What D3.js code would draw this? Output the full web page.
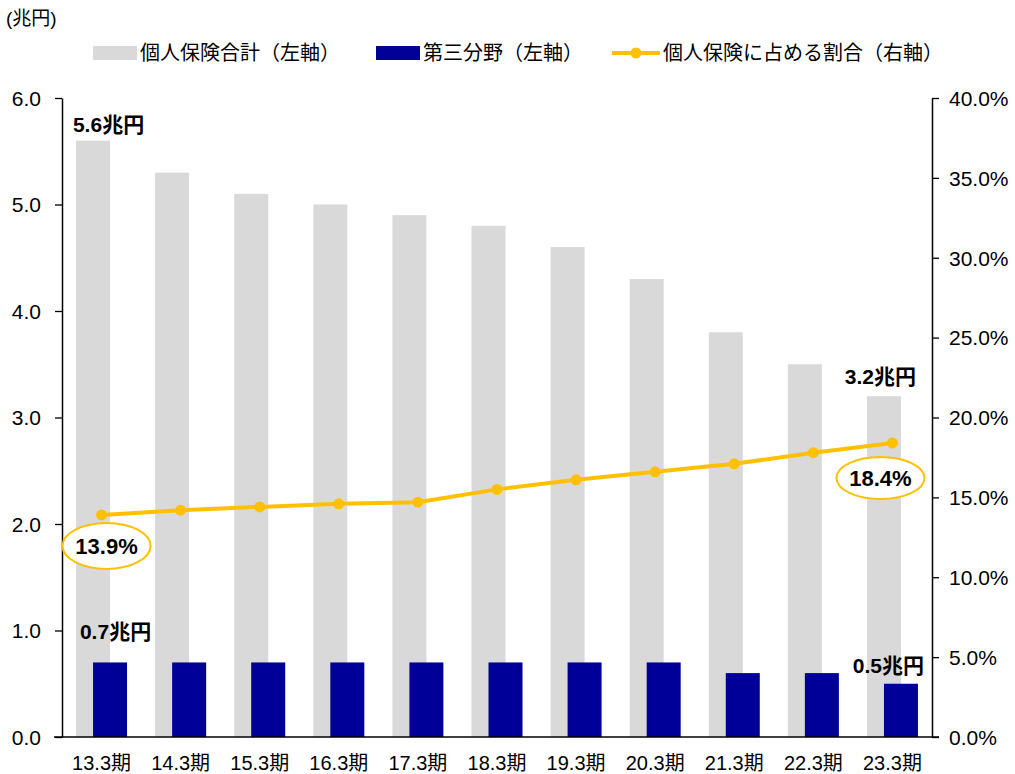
<!DOCTYPE html>
<html><head><meta charset="utf-8">
<script src="https://cdn.jsdelivr.net/npm/d3@7"></script>
<style>
body{margin:0;background:#fff;}
text{font-family:"Liberation Sans","Noto Sans CJK JP",Arial,sans-serif;}
</style></head>
<body><svg id="c" width="1015" height="774"></svg>
<script>
const categories = ["13.3期","14.3期","15.3期","16.3期","17.3期","18.3期","19.3期","20.3期","21.3期","22.3期","23.3期"];
const totalIndividual = [5.6,5.3,5.1,5.0,4.9,4.8,4.6,4.3,3.8,3.5,3.2];
const thirdSector = [0.7,0.7,0.7,0.7,0.7,0.7,0.7,0.7,0.6,0.6,0.5];
const sharePct = [13.9,14.2,14.4,14.6,14.7,15.5,16.1,16.6,17.1,17.8,18.4];
const leftTicks = [0,1,2,3,4,5,6];
const rightTicks = [0,5,10,15,20,25,30,35,40];
const seriesNames = ["個人保険合計（左軸）","第三分野（左軸）","個人保険に占める割合（右軸）"];

const FF = '"Liberation Sans","Noto Sans CJK JP",Arial,sans-serif';
const svg = d3.select("#c");
const L = 62, R = 932, T = 98, B = 737;
const x = d3.scaleBand().domain(categories).range([L, R]);
const yL = d3.scaleLinear().domain([0, 6]).range([B, T]);
const yR = d3.scaleLinear().domain([0, 40]).range([B, T]);
const barW = 34, off = 17;
const cx = c => x(c) + x.bandwidth()/2;

svg.selectAll("rect.g").data(totalIndividual).enter().append("rect")
  .attr("x",(d,i)=>cx(categories[i]) - off/2 - barW/2)
  .attr("y",d=>yL(d)).attr("width",barW).attr("height",d=>B-yL(d))
  .attr("fill","#d9d9d9");
svg.selectAll("rect.b").data(thirdSector).enter().append("rect")
  .attr("x",(d,i)=>cx(categories[i]) + off/2 - barW/2)
  .attr("y",d=>yL(d)).attr("width",barW).attr("height",d=>B-yL(d))
  .attr("fill","#000099");

const axL = d3.axisLeft(yL).tickValues(leftTicks).tickFormat(d3.format(".1f")).tickSize(7).tickSizeOuter(0);
const gL = svg.append("g").attr("transform",`translate(${L},0)`).call(axL);
const axR = d3.axisRight(yR).tickValues(rightTicks).tickFormat(d=>d.toFixed(1)+"%").tickSize(7).tickSizeOuter(0);
const gR = svg.append("g").attr("transform",`translate(${R},0)`).call(axR);
const axB = d3.axisBottom(x).tickSize(0).tickSizeOuter(0);
const gB = svg.append("g").attr("transform",`translate(0,${B})`).call(axB);
[gL,gR,gB].forEach(g=>{
  g.selectAll("path").attr("stroke","#000").attr("stroke-width",1.5);
  g.selectAll("line").attr("stroke","#000").attr("stroke-width",1.3);
  g.selectAll("text").attr("fill","#000").style("font-size","21px").style("font-family",FF);
});
gB.selectAll("text").style("font-size","20px");
gL.selectAll("text").attr("x",-21).attr("dy","0.35em");
gR.selectAll("text").attr("x",17).attr("dy","0.35em");
gB.selectAll("text").attr("y",26).attr("dy","0.35em");
gB.select("path").attr("d",`M${L-8},0H${R+7}`);

const line = d3.line().x((d,i)=>cx(categories[i])).y(d=>yR(d));
svg.append("path").datum(sharePct).attr("d",line).attr("fill","none")
  .attr("stroke","#ffc000").attr("stroke-width",4);
svg.selectAll("circle.p").data(sharePct).enter().append("circle")
  .attr("cx",(d,i)=>cx(categories[i])).attr("cy",d=>yR(d)).attr("r",5.5).attr("fill","#ffc000");

function lbl(txt, xx, yy){
  svg.append("text").attr("x",xx).attr("y",yy).attr("text-anchor","middle")
    .style("font-size","21px").style("font-weight","bold").attr("fill","#000").text(txt);
}
const c0 = cx(categories[0]), cN = cx(categories[10]);
lbl(totalIndividual[0].toFixed(1)+"兆円", c0+7, yL(totalIndividual[0])-9);
lbl(thirdSector[0].toFixed(1)+"兆円", c0+14, yL(thirdSector[0])-23);
lbl(totalIndividual[10].toFixed(1)+"兆円", cN-12, yL(totalIndividual[10])-12);
lbl(thirdSector[10].toFixed(1)+"兆円", cN-4, yL(thirdSector[10])-11);

function oval(v, xx, yy, ry){
  svg.append("ellipse").attr("cx",xx).attr("cy",yy).attr("rx",44).attr("ry",ry)
    .attr("fill","#fff").attr("stroke","#ffc000").attr("stroke-width",2);
  svg.append("text").attr("x",xx).attr("y",yy+8).attr("text-anchor","middle")
    .style("font-size","22px").style("font-weight","bold").attr("fill","#000").text(v.toFixed(1)+"%");
}
oval(sharePct[0], c0+5, yR(sharePct[0])+31, 23);
oval(sharePct[10], cN-12, yR(sharePct[10])+35, 21);

svg.append("text").attr("x",6).attr("y",25).style("font-size","19px").attr("fill","#000").text("(兆円)");

const ly = 53;
svg.append("rect").attr("x",93).attr("y",ly-7).attr("width",44).attr("height",14).attr("fill","#d9d9d9");
svg.append("text").attr("x",140).attr("y",ly+7).style("font-size","20px").text(seriesNames[0]);
svg.append("rect").attr("x",376).attr("y",ly-7).attr("width",44).attr("height",14).attr("fill","#000099");
svg.append("text").attr("x",423).attr("y",ly+7).style("font-size","20px").text(seriesNames[1]);
svg.append("line").attr("x1",612).attr("x2",660).attr("y1",ly).attr("y2",ly).attr("stroke","#ffc000").attr("stroke-width",4);
svg.append("circle").attr("cx",636).attr("cy",ly).attr("r",5.5).attr("fill","#ffc000");
svg.append("text").attr("x",663).attr("y",ly+7).style("font-size","20px").text(seriesNames[2]);
</script></body></html>
